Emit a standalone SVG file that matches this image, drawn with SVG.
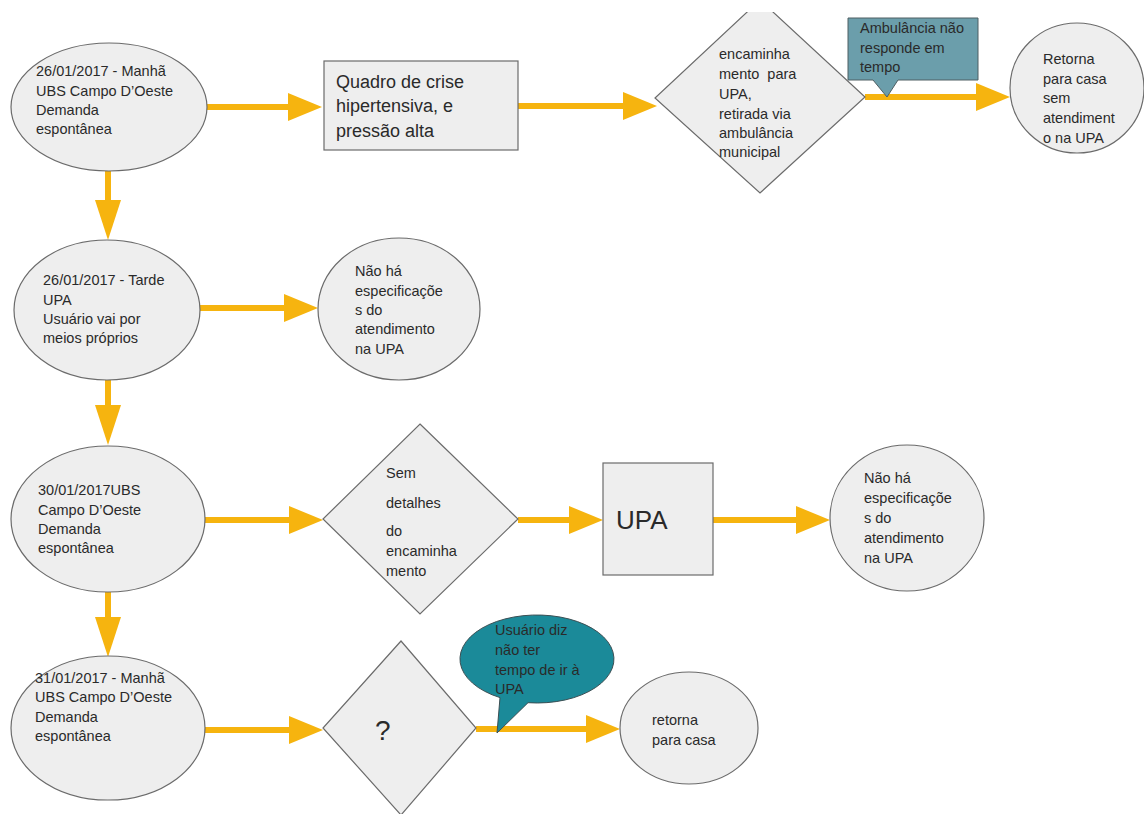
<svg xmlns="http://www.w3.org/2000/svg" width="1144" height="814" viewBox="0 0 1144 814">
  <style>
    .node { fill: #eeeeee; stroke: #6b6b6b; stroke-width: 1.2; }
    .lbl { font-family: "Liberation Sans", Arial, sans-serif; font-size: 14.5px; fill: #2a2a2a; }
    .big { font-size: 18px; }
    .flow { fill: none; stroke: #f6b40f; stroke-width: 6; }
    .down { marker-end: url(#headV); }
    .side { marker-end: url(#headH); }
    .note1 { fill: #6b9eab; stroke: #4f5f63; stroke-width: 1; }
    .note2 { fill: #1b8a99; stroke: #3c4f54; stroke-width: 1; }
  </style>
  <defs>
    <marker id="headH" markerUnits="userSpaceOnUse" viewBox="0 0 34 28" markerWidth="34" markerHeight="28" refX="1" refY="14" orient="auto">
      <path d="M0,0 L34,14 L0,28 Z" fill="#f6b40f"/>
    </marker>
    <marker id="headV" markerUnits="userSpaceOnUse" viewBox="0 0 40 26" markerWidth="40" markerHeight="26" refX="1" refY="13" orient="auto">
      <path d="M0,0 L40,13 L0,26 Z" fill="#f6b40f"/>
    </marker>
    <clipPath id="topCut">
      <rect x="0" y="12" width="1144" height="802"/>
    </clipPath>
  </defs>

  <rect width="1144" height="814" fill="#ffffff"/>

  <!-- connectors -->
  <g id="connectors">
    <path class="flow side" d="M207 107 H289"/>
    <path class="flow side" d="M518 106 H624"/>
    <path class="flow side" d="M865 97 H977"/>
    <path class="flow down" d="M108 171 V201"/>
    <path class="flow side" d="M200 308 H285"/>
    <path class="flow down" d="M108 380 V406"/>
    <path class="flow side" d="M205 520 H290"/>
    <path class="flow side" d="M518 520 H570"/>
    <path class="flow side" d="M713 520 H797"/>
    <path class="flow down" d="M108 592 V618"/>
    <path class="flow side" d="M205 730 H290"/>
    <path class="flow side" d="M476 729 H587"/>
  </g>

  <!-- row 1 -->
  <g id="n-2601-manha">
    <ellipse class="node" cx="109" cy="107" rx="98" ry="64"/>
    <text class="lbl" x="36" y="76">26/01/2017 - Manhã</text>
    <text class="lbl" x="36" y="96">UBS Campo D’Oeste</text>
    <text class="lbl" x="36" y="115">Demanda</text>
    <text class="lbl" x="36" y="134">espontânea</text>
  </g>

  <g id="n-crise">
    <rect class="node" x="324" y="61" width="194" height="89"/>
    <text class="lbl big" x="336" y="88">Quadro de crise</text>
    <text class="lbl big" x="336" y="112">hipertensiva, e</text>
    <text class="lbl big" x="336" y="137">pressão alta</text>
  </g>

  <g id="n-encaminhamento-upa">
    <polygon class="node" clip-path="url(#topCut)" points="760,0 865,97 760,193 655,98"/>
    <text class="lbl" x="719" y="59">encaminha</text>
    <text class="lbl" x="719" y="79" xml:space="preserve">mento  para</text>
    <text class="lbl" x="719" y="99">UPA,</text>
    <text class="lbl" x="719" y="119">retirada via</text>
    <text class="lbl" x="719" y="138">ambulância</text>
    <text class="lbl" x="719" y="157">municipal</text>
  </g>

  <g id="n-ambulancia-nota">
    <path class="note1" d="M848 18 H978 V80 H898 L887 97 L873 80 H848 Z"/>
    <text class="lbl" x="860" y="33">Ambulância não</text>
    <text class="lbl" x="860" y="53">responde em</text>
    <text class="lbl" x="860" y="72">tempo</text>
  </g>

  <g id="n-retorna-sem-atendimento">
    <ellipse class="node" cx="1077" cy="88" rx="67" ry="65"/>
    <text class="lbl" x="1043" y="64">Retorna</text>
    <text class="lbl" x="1043" y="84">para casa</text>
    <text class="lbl" x="1043" y="103">sem</text>
    <text class="lbl" x="1043" y="123">atendiment</text>
    <text class="lbl" x="1043" y="143">o na UPA</text>
  </g>

  <!-- row 2 -->
  <g id="n-2601-tarde">
    <ellipse class="node" cx="107" cy="310" rx="93" ry="70"/>
    <text class="lbl" x="43" y="285">26/01/2017 - Tarde</text>
    <text class="lbl" x="43" y="305">UPA</text>
    <text class="lbl" x="43" y="324">Usuário vai por</text>
    <text class="lbl" x="43" y="343">meios próprios</text>
  </g>

  <g id="n-sem-especificacoes-1">
    <ellipse class="node" cx="399" cy="309" rx="81" ry="71"/>
    <text class="lbl" x="355" y="276">Não há</text>
    <text class="lbl" x="355" y="296">especificaçõe</text>
    <text class="lbl" x="355" y="315">s do</text>
    <text class="lbl" x="355" y="334">atendimento</text>
    <text class="lbl" x="355" y="354">na UPA</text>
  </g>

  <!-- row 3 -->
  <g id="n-3001">
    <ellipse class="node" cx="108" cy="519" rx="97" ry="73"/>
    <text class="lbl" x="38" y="495">30/01/2017UBS</text>
    <text class="lbl" x="38" y="515">Campo D’Oeste</text>
    <text class="lbl" x="38" y="534">Demanda</text>
    <text class="lbl" x="38" y="553">espontânea</text>
  </g>

  <g id="n-sem-detalhes">
    <polygon class="node" points="420,424 518,519 420,614 323,519"/>
    <text class="lbl" x="386" y="478">Sem</text>
    <text class="lbl" x="386" y="508">detalhes</text>
    <text class="lbl" x="386" y="536">do</text>
    <text class="lbl" x="386" y="556">encaminha</text>
    <text class="lbl" x="386" y="576">mento</text>
  </g>

  <g id="n-upa">
    <rect class="node" x="603" y="463" width="110" height="112"/>
    <text class="lbl" x="616" y="529" style="font-size:26px">UPA</text>
  </g>

  <g id="n-sem-especificacoes-2">
    <ellipse class="node" cx="907" cy="518" rx="77" ry="73"/>
    <text class="lbl" x="864" y="483">Não há</text>
    <text class="lbl" x="864" y="503">especificaçõe</text>
    <text class="lbl" x="864" y="523">s do</text>
    <text class="lbl" x="864" y="543">atendimento</text>
    <text class="lbl" x="864" y="563">na UPA</text>
  </g>

  <!-- row 4 -->
  <g id="n-3101-manha">
    <ellipse class="node" cx="108" cy="728" rx="97" ry="72"/>
    <text class="lbl" x="35" y="683">31/01/2017 - Manhã</text>
    <text class="lbl" x="35" y="702">UBS Campo D’Oeste</text>
    <text class="lbl" x="35" y="722">Demanda</text>
    <text class="lbl" x="35" y="741">espontânea</text>
  </g>

  <g id="n-interrogacao">
    <polygon class="node" points="401,641 476,728 401,815 323,728"/>
    <text class="lbl" x="375" y="740" style="font-size:28px">?</text>
  </g>

  <g id="n-usuario-nota">
    <path class="note2" d="M528 702.7 A77 44 0 1 0 500 697.6 L497 733 Z"/>
    <text class="lbl" x="495" y="635">Usuário diz</text>
    <text class="lbl" x="495" y="655">não ter</text>
    <text class="lbl" x="495" y="675">tempo de ir à</text>
    <text class="lbl" x="495" y="694">UPA</text>
  </g>

  <g id="n-retorna-casa">
    <ellipse class="node" cx="689" cy="728" rx="69" ry="56"/>
    <text class="lbl" x="652" y="725">retorna</text>
    <text class="lbl" x="652" y="745">para casa</text>
  </g>
</svg>
